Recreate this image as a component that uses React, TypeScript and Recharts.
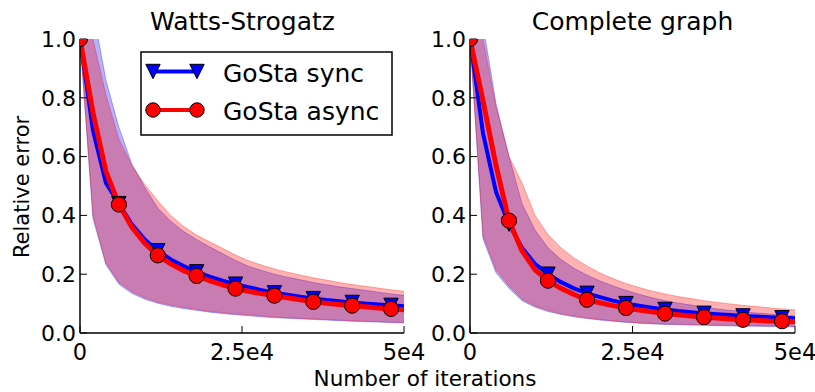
import React from 'react';
import { ComposedChart, Area, Line, XAxis, YAxis } from 'recharts';

// iteration grid (every 2000), markers shown every 6000
const iters = [
  0, 2000, 4000, 6000, 8000, 10000, 12000, 14000, 16000, 18000, 20000, 22000, 24000,
  26000, 28000, 30000, 32000, 34000, 36000, 38000, 40000, 42000, 44000, 46000, 48000, 50000,
];

// Watts-Strogatz
const wsSyncMean = [1.0, 0.69, 0.51, 0.44, 0.37, 0.318, 0.28, 0.25, 0.228, 0.208, 0.192, 0.178, 0.166, 0.156, 0.146, 0.137, 0.13, 0.123, 0.117, 0.112, 0.108, 0.104, 0.1, 0.097, 0.094, 0.091];
const wsSyncLo = [1.0, 0.39, 0.232, 0.166, 0.135, 0.115, 0.101, 0.091, 0.083, 0.077, 0.071, 0.066, 0.062, 0.059, 0.055, 0.052, 0.05, 0.048, 0.046, 0.044, 0.042, 0.04, 0.038, 0.037, 0.035, 0.034];
const wsSyncHi = [1.45, 1.1, 0.86, 0.7, 0.575, 0.495, 0.425, 0.38, 0.345, 0.318, 0.293, 0.27, 0.247, 0.227, 0.213, 0.2, 0.19, 0.181, 0.172, 0.164, 0.157, 0.151, 0.145, 0.139, 0.133, 0.128];
const wsAsyncMean = [1.0, 0.75, 0.55, 0.437, 0.36, 0.305, 0.264, 0.235, 0.212, 0.194, 0.178, 0.164, 0.151, 0.142, 0.134, 0.127, 0.12, 0.113, 0.106, 0.101, 0.097, 0.093, 0.089, 0.085, 0.082, 0.079];
const wsAsyncLo = [1.0, 0.4, 0.238, 0.172, 0.14, 0.12, 0.105, 0.095, 0.087, 0.08, 0.074, 0.069, 0.065, 0.062, 0.058, 0.055, 0.052, 0.05, 0.048, 0.046, 0.044, 0.042, 0.04, 0.039, 0.037, 0.036];
const wsAsyncHi = [1.3, 1.0, 0.81, 0.66, 0.57, 0.505, 0.45, 0.4, 0.362, 0.333, 0.31, 0.288, 0.265, 0.246, 0.231, 0.218, 0.207, 0.197, 0.188, 0.18, 0.172, 0.165, 0.159, 0.153, 0.147, 0.142];

// Complete graph
const cgSyncMean = [1.0, 0.68, 0.48, 0.37, 0.29, 0.235, 0.2, 0.173, 0.152, 0.135, 0.122, 0.11, 0.1, 0.093, 0.086, 0.08, 0.075, 0.071, 0.067, 0.064, 0.061, 0.058, 0.056, 0.054, 0.052, 0.05];
const cgSyncLo = [1.0, 0.32, 0.205, 0.152, 0.11, 0.088, 0.073, 0.063, 0.055, 0.049, 0.044, 0.04, 0.036, 0.033, 0.031, 0.029, 0.028, 0.027, 0.026, 0.025, 0.024, 0.023, 0.023, 0.022, 0.022, 0.021];
const cgSyncHi = [1.4, 1.05, 0.78, 0.6, 0.44, 0.35, 0.29, 0.25, 0.22, 0.197, 0.177, 0.16, 0.145, 0.132, 0.12, 0.11, 0.102, 0.095, 0.088, 0.082, 0.077, 0.072, 0.068, 0.065, 0.061, 0.058];
const cgAsyncMean = [1.0, 0.79, 0.57, 0.382, 0.28, 0.215, 0.178, 0.152, 0.131, 0.113, 0.103, 0.093, 0.085, 0.078, 0.072, 0.066, 0.062, 0.058, 0.054, 0.051, 0.048, 0.045, 0.043, 0.041, 0.04, 0.038];
const cgAsyncLo = [1.0, 0.33, 0.215, 0.16, 0.115, 0.092, 0.077, 0.066, 0.058, 0.051, 0.046, 0.042, 0.038, 0.035, 0.033, 0.031, 0.03, 0.029, 0.028, 0.027, 0.026, 0.025, 0.025, 0.024, 0.024, 0.023];
const cgAsyncHi = [1.3, 1.0, 0.77, 0.6, 0.51, 0.4, 0.335, 0.29, 0.255, 0.228, 0.204, 0.185, 0.168, 0.155, 0.143, 0.133, 0.124, 0.117, 0.11, 0.104, 0.099, 0.094, 0.09, 0.086, 0.082, 0.079];

const xTicks = [0, 25000, 50000];
const xTickLabels = ['0', '2.5e4', '5e4'];
const yTicks = [0, 0.2, 0.4, 0.6, 0.8, 1.0];
const markEvery = 6000;

const FONT = '"DejaVu Sans", sans-serif';
const BLUE = '#0000ff';
const RED = '#ff0000';

const buildRows = (sm: number[], sl: number[], sh: number[], am: number[], al: number[], ah: number[]) =>
  iters.map((x, i) => ({
    x,
    syncMean: sm[i],
    syncBand: [sl[i], sh[i]],
    asyncMean: am[i],
    asyncBand: [al[i], ah[i]],
  }));

const wsRows = buildRows(wsSyncMean, wsSyncLo, wsSyncHi, wsAsyncMean, wsAsyncLo, wsAsyncHi);
const cgRows = buildRows(cgSyncMean, cgSyncLo, cgSyncHi, cgAsyncMean, cgAsyncLo, cgAsyncHi);

const TriDot = (props: any) => {
  const { cx, cy, payload, index } = props;
  if (cx == null || cy == null || payload.x % markEvery !== 0) return <g key={`t-${index}`} />;
  const s = 7.2;
  return (
    <polygon
      key={`t-${index}`}
      points={`${cx - s},${cy - s} ${cx + s},${cy - s} ${cx},${cy + s}`}
      fill={BLUE}
      stroke="#000"
      strokeWidth={1}
    />
  );
};

const CircleDot = (props: any) => {
  const { cx, cy, payload, index } = props;
  if (cx == null || cy == null || payload.x % markEvery !== 0) return <g key={`c-${index}`} />;
  return <circle key={`c-${index}`} cx={cx} cy={cy} r={7.6} fill={RED} stroke="#000" strokeWidth={1} />;
};

const axisLine = { stroke: '#000', strokeWidth: 1.5 };
const tickLine = { stroke: '#000', strokeWidth: 1 };
const xTickStyle = { fill: '#000', fontSize: 22.5, fontFamily: FONT };
const yTickStyle = { fill: '#000', fontSize: 22, fontFamily: FONT };

function Panel({ data, left, right }: { data: any[]; left: number; right: number }) {
  return (
    <div style={{ position: 'absolute', left, top: 0 }}>
      <ComposedChart width={425} height={392} data={data} margin={{ top: 39, right, bottom: 0, left: 0 }}>
        <XAxis
          xAxisId="b"
          dataKey="x"
          type="number"
          domain={[0, 50000]}
          ticks={xTicks}
          interval={0}
          allowDataOverflow
          tickFormatter={(v: number) => xTickLabels[xTicks.indexOf(v)]}
          tickSize={-7}
          tickMargin={18}
          height={59}
          axisLine={axisLine}
          tickLine={tickLine}
          tick={xTickStyle}
        />
        <XAxis
          xAxisId="t"
          orientation="top"
          dataKey="x"
          type="number"
          domain={[0, 50000]}
          ticks={xTicks}
          interval={0}
          tick={false}
          tickSize={-7}
          height={0}
          axisLine={axisLine}
          tickLine={tickLine}
        />
        <YAxis
          yAxisId="l"
          type="number"
          domain={[0, 1]}
          ticks={yTicks}
          interval={0}
          allowDataOverflow
          tickFormatter={(v: number) => v.toFixed(1)}
          tickSize={-7}
          tickMargin={11}
          width={80}
          axisLine={axisLine}
          tickLine={tickLine}
          tick={yTickStyle}
        />
        <YAxis
          yAxisId="r"
          orientation="right"
          type="number"
          domain={[0, 1]}
          ticks={yTicks}
          interval={0}
          tick={false}
          tickSize={-7}
          width={0}
          axisLine={axisLine}
          tickLine={tickLine}
        />
        <Area
          xAxisId="b"
          yAxisId="l"
          type="linear"
          dataKey="syncBand"
          fill={BLUE}
          fillOpacity={0.3}
          stroke={BLUE}
          strokeOpacity={0.3}
          strokeWidth={1}
          dot={false}
          activeDot={false}
          isAnimationActive={false}
        />
        <Area
          xAxisId="b"
          yAxisId="l"
          type="linear"
          dataKey="asyncBand"
          fill={RED}
          fillOpacity={0.3}
          stroke={RED}
          strokeOpacity={0.3}
          strokeWidth={1}
          dot={false}
          activeDot={false}
          isAnimationActive={false}
        />
        <Line
          xAxisId="b"
          yAxisId="l"
          type="linear"
          dataKey="syncMean"
          stroke={BLUE}
          strokeWidth={4}
          dot={TriDot}
          activeDot={false}
          isAnimationActive={false}
        />
        <Line
          xAxisId="b"
          yAxisId="l"
          type="linear"
          dataKey="asyncMean"
          stroke={RED}
          strokeWidth={5}
          dot={CircleDot}
          activeDot={false}
          isAnimationActive={false}
        />
      </ComposedChart>
    </div>
  );
}

export default function App() {
  return (
    <div style={{ position: 'absolute', left: 0, top: 0, width: 815, height: 392, background: '#fff', overflow: 'hidden' }}>
      <Panel data={wsRows} left={0} right={21} />
      <Panel data={cgRows} left={390} right={20} />
      <svg width={815} height={392} style={{ position: 'absolute', left: 0, top: 0, pointerEvents: 'none' }} fontFamily={FONT}>
        <text x={242.5} y={30} fontSize={25} textAnchor="middle">Watts-Strogatz</text>
        <text x={632.5} y={30} fontSize={25} textAnchor="middle">Complete graph</text>
        <text x={425} y={386} fontSize={21.5} textAnchor="middle">Number of iterations</text>
        <text x={29} y={187} fontSize={21} textAnchor="middle" transform="rotate(-90 29 187)">Relative error</text>
        <g>
          <rect x={141} y={52} width={251} height={83} fill="#fff" stroke="#000" strokeWidth={1.5} />
          <line x1={153} y1={71.5} x2={197} y2={71.5} stroke={BLUE} strokeWidth={4} />
          <polygon points="145.8,64.3 160.2,64.3 153,78.7" fill={BLUE} stroke="#000" strokeWidth={1} />
          <polygon points="189.8,64.3 204.2,64.3 197,78.7" fill={BLUE} stroke="#000" strokeWidth={1} />
          <text x={223} y={82} fontSize={25}>GoSta sync</text>
          <line x1={153} y1={110} x2={197} y2={110} stroke={RED} strokeWidth={4} />
          <circle cx={153} cy={110} r={7.2} fill={RED} stroke="#000" strokeWidth={1} />
          <circle cx={197} cy={110} r={7.2} fill={RED} stroke="#000" strokeWidth={1} />
          <text x={223} y={119.5} fontSize={25}>GoSta async</text>
        </g>
      </svg>
    </div>
  );
}
